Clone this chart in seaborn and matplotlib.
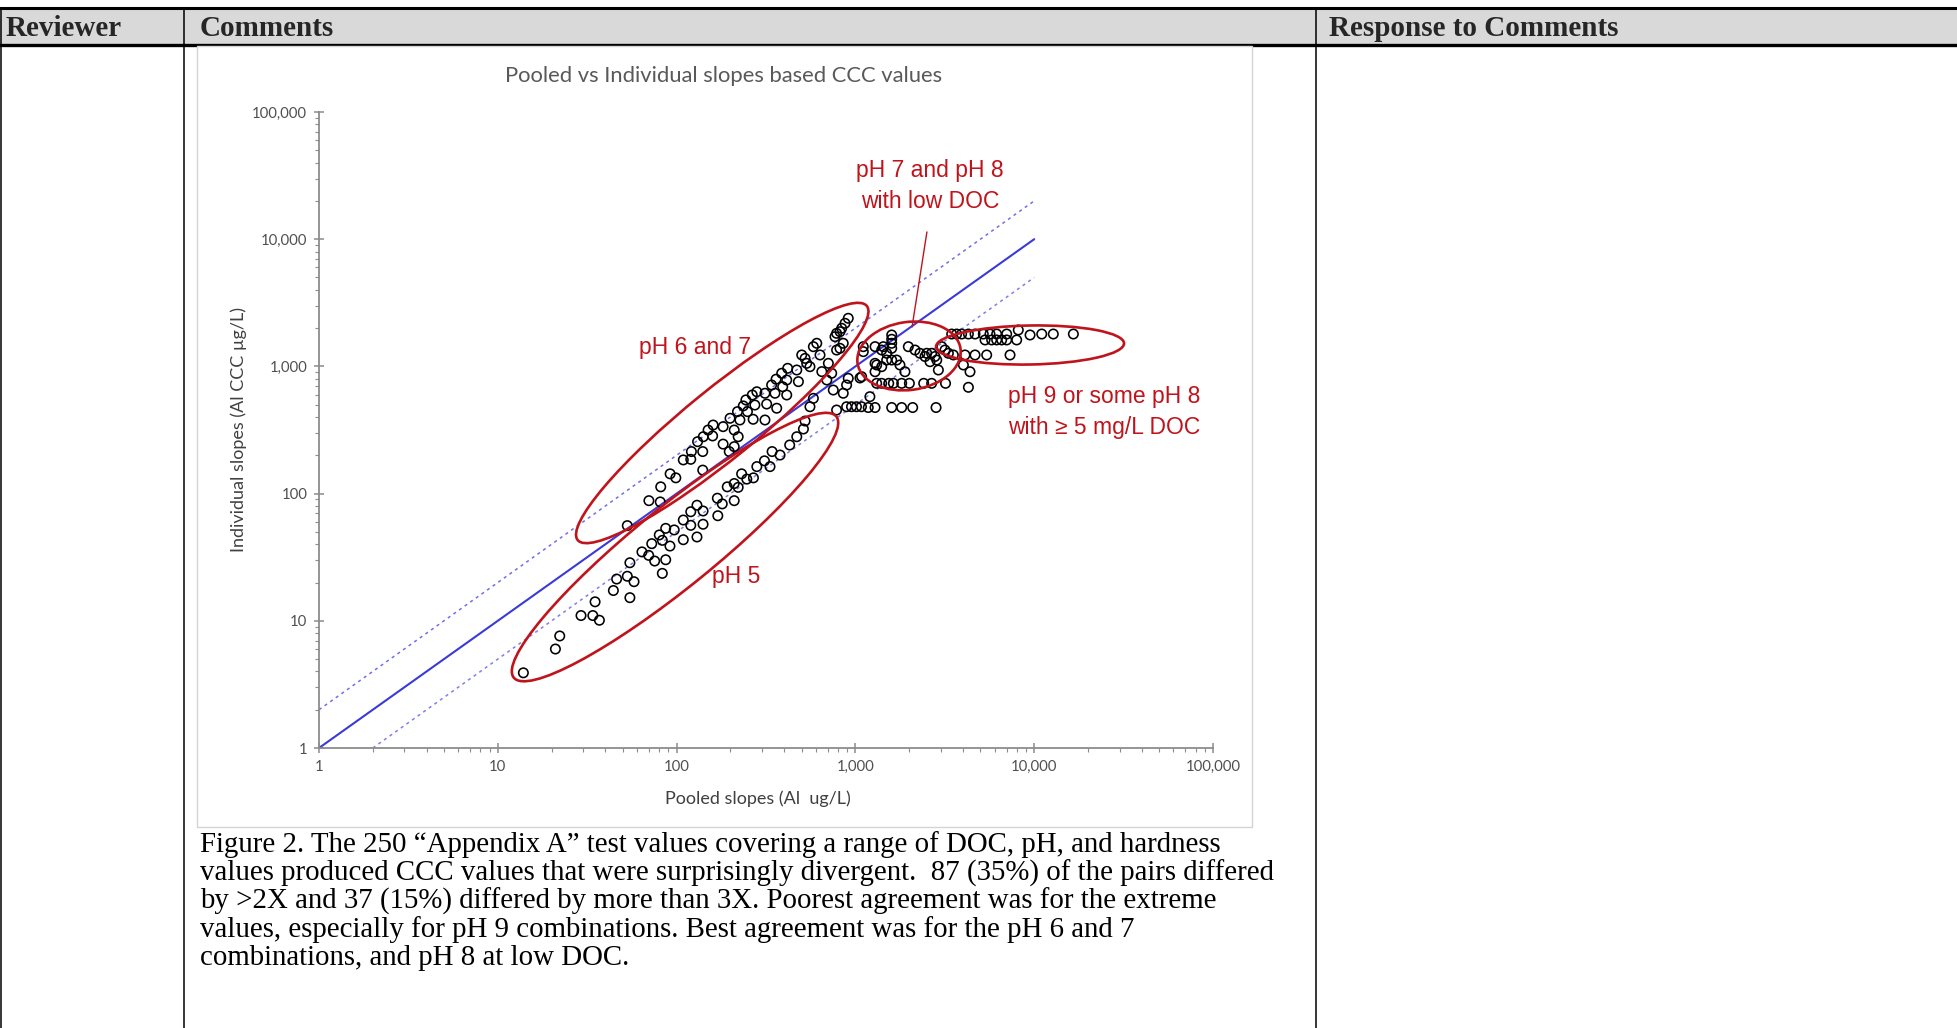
import matplotlib
matplotlib.use('Agg')
import numpy as np
import pandas as pd
import matplotlib.pyplot as plt
import matplotlib.transforms as mtransforms
import seaborn as sns
from matplotlib.patches import Ellipse, Rectangle
from matplotlib.lines import Line2D
from matplotlib.ticker import FuncFormatter, LogLocator, NullFormatter

W, H = 1957, 1028

# --- scatter values (pooled x, individual y) ---
# pH 5 band (below the 1:1 line)
ph5_x = [13.9, 21, 22.2, 29.2, 34, 35, 37, 44.3, 46.2, 53, 57.8, 54.8, 54.8, 64, 69.8,
         72.6, 75.4, 80, 83.2, 83.2, 86.9, 86.9, 91.8, 97, 109, 109, 120, 120, 130, 130,
         140.6, 140.6, 170, 180, 169, 210, 192, 210, 221, 231, 247, 269, 281, 310, 333,
         342, 379, 429, 470, 512, 523]
ph5_y = [3.9, 6.0, 7.6, 11.0, 11, 14.1, 10.1, 17.3, 21.3, 22.4, 20.3, 15.2, 28.6, 34.8, 32.7,
         40.4, 29.5, 47.3, 23.6, 42.9, 30.2, 53.3, 38.7, 51.8, 43.4, 62, 56.3, 72, 45.6, 81,
         57.4, 73, 67, 83, 92, 88, 113, 120, 112, 143, 130, 133, 163, 181, 163,
         214, 201, 241, 280, 322, 372]
# pH 6 and 7 band (on / above the 1:1 line)
ph67_x = [53, 70, 81, 81.5, 92, 99, 109, 120, 121, 140, 140, 131, 141, 150, 160, 159, 182,
          182, 197, 210, 210, 221, 199, 219, 226, 236, 244, 249, 268, 274, 281, 265, 312,
          319, 312, 340, 355, 360, 363, 387, 392, 413, 413, 418, 470, 480, 501, 523, 534,
          557, 582, 608, 634, 649, 692, 737, 752, 582, 557, 785, 855, 893, 912, 706, 785,
          820, 769, 820, 855, 785, 838, 875, 912]
ph67_y = [56, 88, 86, 113, 143, 133, 184, 186, 214, 153, 214, 256, 280, 316, 346, 284, 245,
          336, 214, 234, 316, 280, 391, 441, 379, 489, 545, 441, 384, 497, 632, 596, 615,
          506, 379, 714, 615, 793, 469, 883, 692, 782, 596, 966, 937, 759, 1230, 1156, 1057,
          995, 1429, 1520, 1230, 910, 782, 883, 652, 561, 482, 454, 615, 714, 806, 1057, 1345,
          1387, 1713, 1875, 1520, 1820, 1994, 2182, 2389]
# flat row and scattered mid points
mid_x = [893, 951, 1014, 1081, 1180, 1288, 1596, 1815, 2091, 2825, 1205, 1084, 1288, 1061]
mid_y = [482, 482, 482, 482, 475, 475, 475, 475, 475, 475, 578, 830, 1057, 811]
# pH 7 and pH 8 with low DOC
ph78_x = [1596, 1596, 1596, 1596, 1107, 1107, 1288, 1432, 1403, 1496, 1496, 1596, 1702, 1315,
          1403, 1288, 1775, 1893, 1977, 2155, 2296, 2449, 2505, 2669, 2786, 2614, 2911, 2851,
          3040, 3170, 3311, 3531, 1315, 1403, 1536, 1631, 1815, 2004, 2410, 2669, 3192]
ph78_y = [1766, 1634, 1520, 1387, 1429, 1306, 1430, 1429, 1345, 1268, 1122, 1122, 1122, 1026,
          995, 908, 1026, 908, 1429, 1345, 1268, 1196, 1268, 1268, 1196, 1089, 937, 1122,
          1429, 1345, 1268, 1230, 736, 736, 736, 736, 736, 736, 736, 736, 736]
# pH 9 or some pH 8 with >= 5 mg/L DOC
ph9_x = [4018, 4375, 4285, 4102, 4667, 5423, 7325, 3456, 3683, 3927, 4285, 4667, 5191, 5657,
         6166, 7016, 8147, 9480, 11020, 12790, 16560, 5309, 5781, 6166, 6577, 7016, 7980]
ph9_y = [1026, 908, 685, 1230, 1230, 1230, 1230, 1797, 1797, 1797, 1797, 1797, 1797, 1797,
         1797, 1797, 1933, 1766, 1797, 1797, 1797, 1614, 1614, 1614, 1614, 1614, 1614]

# reference lines: 1:1, 2x above, 2x below
one_x, one_y = [1, 10000], [1, 10000]
up_x, up_y = [1, 10000], [2, 20000]
lo_x, lo_y = [2, 10000], [1, 5000]

ticks = [1, 10, 100, 1000, 10000, 100000]

caption = [
    "Figure 2. The 250 \u201cAppendix A\u201d test values covering a range of DOC, pH, and hardness",
    "values produced CCC values that were surprisingly divergent.  87 (35%) of the pairs differed",
    "by >2X and 37 (15%) differed by more than 3X. Poorest agreement was for the extreme",
    "values, especially for pH 9 combinations. Best agreement was for the pH 6 and 7",
    "combinations, and pH 8 at low DOC.",
]

RED = '#c0141c'
GRAY = '#8c8c8c'

sns.set_theme(style='white')
plt.rcParams['font.family'] = ['Lato', 'DejaVu Sans']

fig = plt.figure(figsize=(W / 100, H / 100), dpi=100)
fig.patch.set_facecolor('white')


def fx(px):
    return px / W


def fy(py):
    return 1 - py / H


# --- table around the figure ---
fig.add_artist(Rectangle((0, fy(45)), 1, fy(8) - fy(45), transform=fig.transFigure,
                         facecolor='#d9d9d9', edgecolor='none', zorder=-2))
for yy, lw in [(8, 2.2), (45, 2.4)]:
    fig.add_artist(Line2D([0, 1], [fy(yy), fy(yy)], transform=fig.transFigure,
                          color='black', lw=lw, zorder=-1))
for xx in [1, 184, 1316]:
    fig.add_artist(Line2D([fx(xx), fx(xx)], [0, fy(8)], transform=fig.transFigure,
                          color='black', lw=1.1, zorder=-1))
serif = ['Liberation Serif', 'DejaVu Serif']
for xx, txt in [(6, 'Reviewer'), (200, 'Comments'), (1329, 'Response to Comments')]:
    fig.text(fx(xx), fy(28), txt, ha='left', va='center', fontsize=21,
             fontweight='bold', family=serif)

# frame of the pasted chart image
fig.add_artist(Rectangle((fx(197), fy(827)), fx(1252) - fx(197), fy(46) - fy(827),
                         transform=fig.transFigure, facecolor='white',
                         edgecolor='#d4d4d4', lw=1.0, zorder=-1))

for i, line in enumerate(caption):
    fig.text(fx(200), fy(845 + 28.3 * i), line, ha='left', va='center',
             fontsize=20.8, family=serif, color='black')

# --- chart ---
ax = fig.add_axes([fx(319), fy(748), fx(1213) - fx(319), fy(112) - fy(748)])
ax.set_facecolor('none')
ax.set_zorder(2)

pts = pd.DataFrame({
    'pooled': ph5_x + ph67_x + mid_x + ph78_x + ph9_x,
    'individual': ph5_y + ph67_y + mid_y + ph78_y + ph9_y,
})

sns.lineplot(x=up_x, y=up_y, ax=ax, color='#6f6fe6', lw=1.1, linestyle=(0, (2, 2.5)),
             estimator=None, zorder=2)
sns.lineplot(x=lo_x, y=lo_y, ax=ax, color='#7f7fea', lw=1.1, linestyle=(0, (2, 2.5)),
             estimator=None, zorder=2)
sns.lineplot(x=one_x, y=one_y, ax=ax, color='#3a3ad8', lw=1.5, estimator=None, zorder=2)

sns.scatterplot(data=pts, x='pooled', y='individual', ax=ax, s=46, marker='o',
                facecolors='none', edgecolor='black', linewidth=1.15, zorder=3)
ax.collections[0].set_facecolor('none')
ax.collections[0].set_edgecolor('black')


def ring(cx, cy, w, h, angle):
    trans = fig.dpi_scale_trans + mtransforms.ScaledTranslation(cx, cy, ax.transData)
    ax.add_patch(Ellipse((0, 0), w / 100, h / 100, angle=angle, transform=trans,
                         fill=False, edgecolor=RED, lw=1.9, zorder=4, clip_on=False))


ring(180, 359, 372, 70, 39)
ring(98, 38, 415, 80, 39)
ring(1995, 1208, 104, 68, 8)
ring(9480, 1473, 188, 39, 1)

ax.plot([2512, 2074], [11400, 2042], color=RED, lw=1.0, zorder=4)
ann = dict(color=RED, fontsize=16.5, family=['Liberation Sans', 'DejaVu Sans'])
ax.text(2614, 26200, "pH 7 and pH 8\nwith low DOC", ha='center', va='center',
        linespacing=1.45, **ann)
ax.text(127, 1396, "pH 6 and 7", ha='center', va='center', **ann)
ax.text(215, 22.1, "pH 5", ha='center', va='center', **ann)
ax.text(7130, 438, "pH 9 or some pH 8\nwith \u2265 5 mg/L DOC", ha='left', va='center',
        linespacing=1.45, **ann)

ax.set_xscale('log')
ax.set_yscale('log')
ax.set_xlim(1, 100000)
ax.set_ylim(1, 100000)
ax.set_xticks(ticks)
ax.set_yticks(ticks)
fmt = FuncFormatter(lambda v, p: f'{v:,.0f}')
for axis in (ax.xaxis, ax.yaxis):
    axis.set_major_formatter(fmt)
    axis.set_minor_locator(LogLocator(base=10, subs=np.arange(2, 10)))
    axis.set_minor_formatter(NullFormatter())

ax.spines[['top', 'right']].set_visible(False)
for sp in ('left', 'bottom'):
    ax.spines[sp].set_color(GRAY)
    ax.spines[sp].set_linewidth(1.3)
ax.tick_params(which='both', bottom=True, left=True, color=GRAY)
ax.tick_params(which='major', direction='inout', length=7, width=1.1, labelsize=10.7,
               labelcolor='#505050', pad=5)
ax.tick_params(which='minor', direction='out', length=3, width=0.8)

ax.set_xlabel('Pooled slopes (Al  ug/L)', fontsize=13, color='#404040')
ax.set_ylabel('Individual slopes (Al CCC \u00b5g/L)', fontsize=13, color='#404040')
ax.xaxis.set_label_coords(0.491, -0.066)
ax.yaxis.set_label_coords(-0.081, 0.5)

fig.text(fx(724), fy(76), 'Pooled vs Individual slopes based CCC values', ha='center',
         va='center', fontsize=15.8, color='#595959')

fig.savefig('out.png', dpi=100)
